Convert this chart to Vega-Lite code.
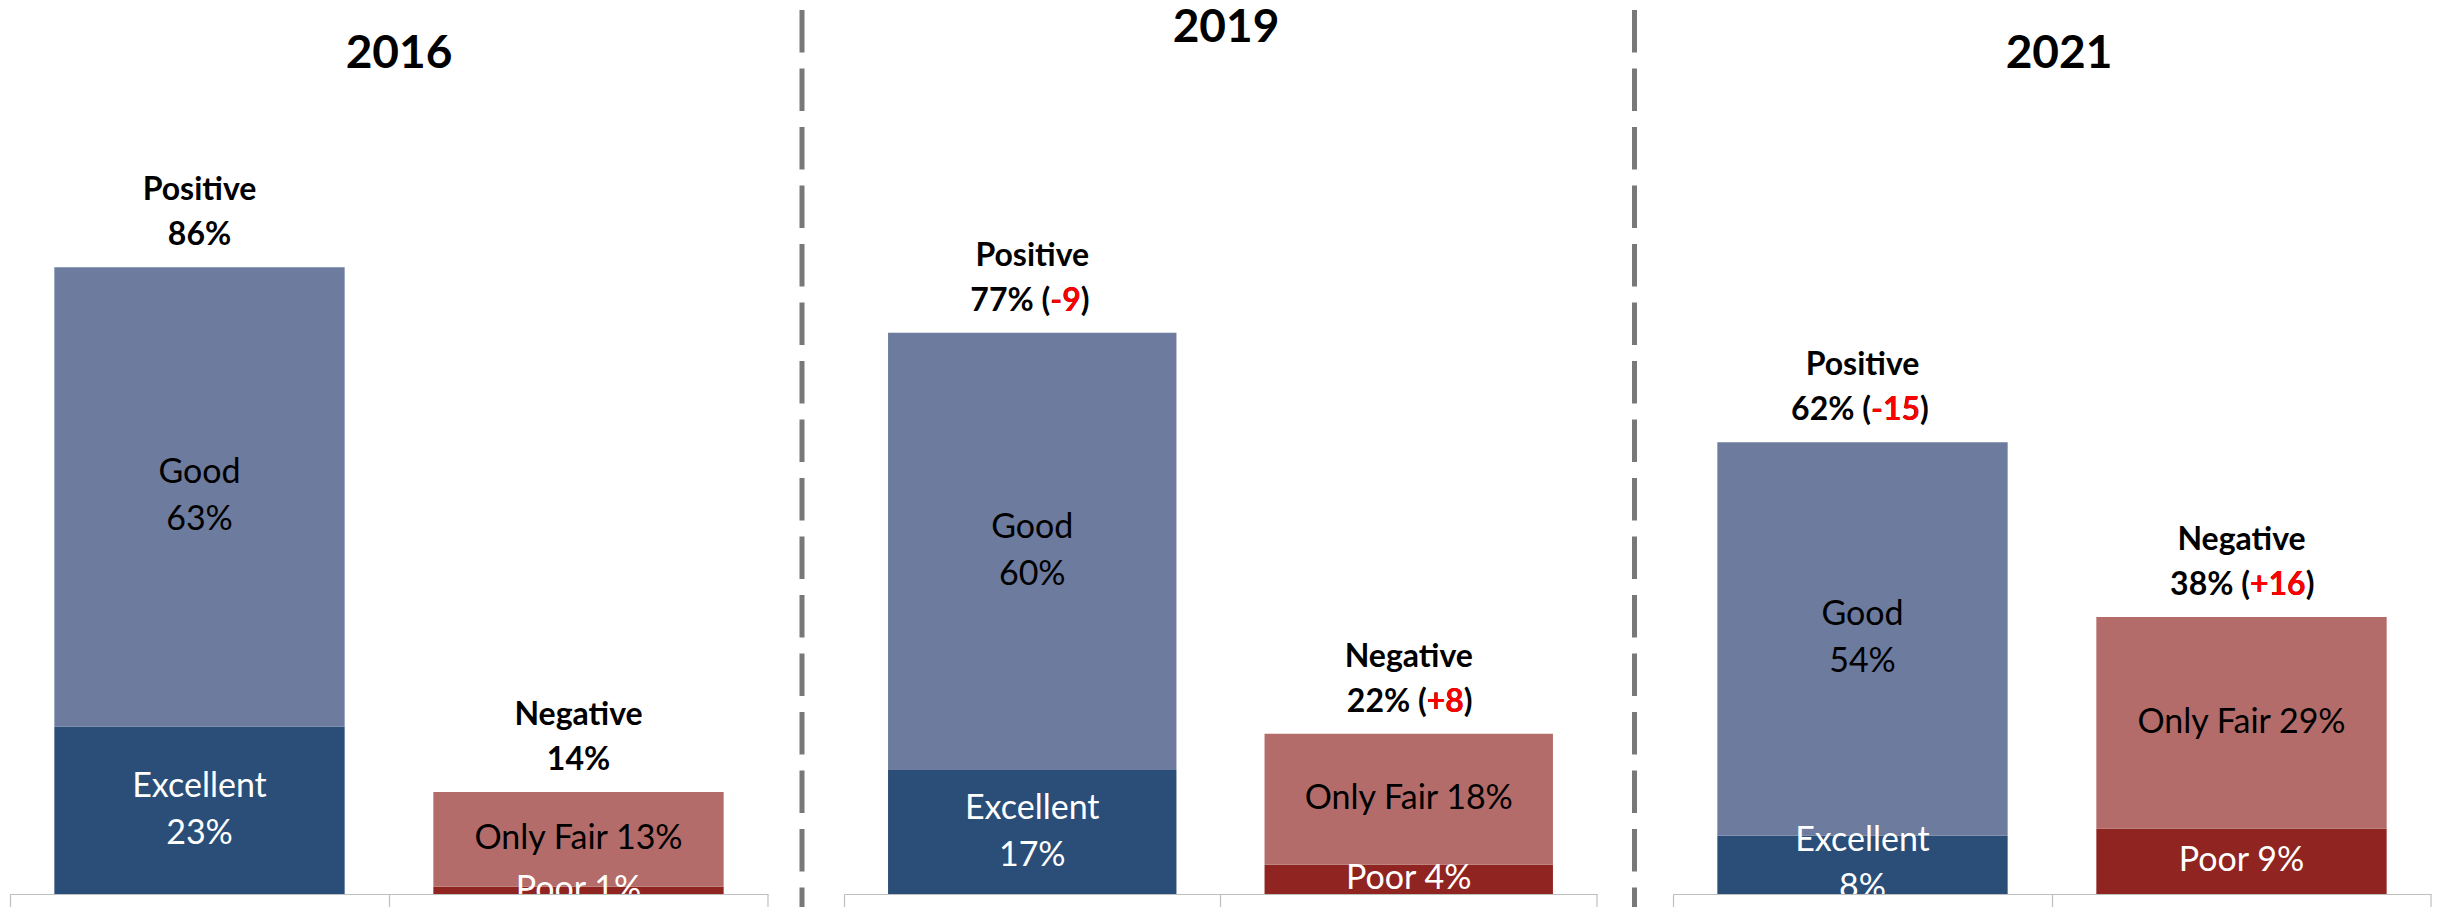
{
  "$schema": "https://vega.github.io/schema/vega-lite/v6.json",
  "background": "white",
  "padding": {"left": 9, "top": 5, "right": 5, "bottom": 5},
  "bounds": "flush",
  "spacing": 37.5,
  "config": {
    "view": {"stroke": null},
    "font": "Lato",
    "axisX": {"labels": false, "title": null, "grid": false, "domainColor": "#bfbfbf", "domainWidth": 1.2, "tickColor": "#bfbfbf", "tickWidth": 1.2, "tickSize": 40, "bandPosition": 0}
  },
  "datasets": {
    "seg": [
      {"year": "2016", "group": "Positive", "rating": "Excellent", "value": 23, "pct": "23%", "order": 1},
      {"year": "2016", "group": "Positive", "rating": "Good", "value": 63, "pct": "63%", "order": 2},
      {"year": "2016", "group": "Negative", "rating": "Poor", "value": 1, "pct": "1%", "order": 1},
      {"year": "2016", "group": "Negative", "rating": "Only Fair", "value": 13, "pct": "13%", "order": 2},
      {"year": "2019", "group": "Positive", "rating": "Excellent", "value": 17, "pct": "17%", "order": 1},
      {"year": "2019", "group": "Positive", "rating": "Good", "value": 60, "pct": "60%", "order": 2},
      {"year": "2019", "group": "Negative", "rating": "Poor", "value": 4, "pct": "4%", "order": 1},
      {"year": "2019", "group": "Negative", "rating": "Only Fair", "value": 18, "pct": "18%", "order": 2},
      {"year": "2021", "group": "Positive", "rating": "Excellent", "value": 8, "pct": "8%", "order": 1},
      {"year": "2021", "group": "Positive", "rating": "Good", "value": 54, "pct": "54%", "order": 2},
      {"year": "2021", "group": "Negative", "rating": "Poor", "value": 9, "pct": "9%", "order": 1},
      {"year": "2021", "group": "Negative", "rating": "Only Fair", "value": 29, "pct": "29%", "order": 2}
    ],
    "hdr": [
      {"year": "2016", "group": "Positive", "total": 86, "name": "Positive", "pct": "86%", "lead": "", "delta": "", "deltaParen": ""},
      {"year": "2016", "group": "Negative", "total": 14, "name": "Negative", "pct": "14%", "lead": "", "delta": "", "deltaParen": ""},
      {"year": "2019", "group": "Positive", "total": 77, "name": "Positive", "pct": "77%", "lead": "77% (", "delta": "-9", "deltaParen": "-9)"},
      {"year": "2019", "group": "Negative", "total": 22, "name": "Negative", "pct": "22%", "lead": "22% (", "delta": "+8", "deltaParen": "+8)"},
      {"year": "2021", "group": "Positive", "total": 62, "name": "Positive", "pct": "62%", "lead": "62% (", "delta": "-15", "deltaParen": "-15)"},
      {"year": "2021", "group": "Negative", "total": 38, "name": "Negative", "pct": "38%", "lead": "38% (", "delta": "+16", "deltaParen": "+16)"}
    ]
  },
  "hconcat": [
    {
      "width": 758, "height": 884,
      "title": {"text": "2016", "fontSize": 46, "fontWeight": "bold", "font": "Lato", "color": "black", "baseline": "alphabetic", "offset": -104, "dx": 10, "anchor": "middle", "frame": "group"},
      "layer": [
        {
          "data": {"name": "seg"},
          "transform": [
            {"filter": "datum.year === '2016'"},
            {"stack": "value", "groupby": ["group"], "sort": [{"field": "order"}], "as": ["v0", "v1"]},
            {"calculate": "(datum.v0 + datum.v1) / 2", "as": "mid"},
            {"calculate": "datum.rating + ' ' + datum.pct", "as": "label"}
          ],
          "encoding": {"x": {"field": "group", "type": "nominal", "sort": ["Positive", "Negative"], "scale": {"domain": ["Positive", "Negative"], "paddingInner": 0, "paddingOuter": 0}}},
          "layer": [
            {"mark": {"type": "bar", "width": {"band": 0.766}},
             "encoding": {
               "y": {"field": "v1", "type": "quantitative", "scale": {"domain": [0, 121.3], "nice": false}, "axis": null},
               "y2": {"field": "v0"},
               "color": {"field": "rating", "type": "nominal", "scale": {"domain": ["Excellent", "Good", "Poor", "Only Fair"], "range": ["#2A4E78", "#6D7B9E", "#8F2420", "#B36C69"]}, "legend": null}}},
            {"transform": [{"filter": "datum.group === 'Positive'"}],
             "mark": {"type": "text", "fontSize": 34, "font": "Lato", "baseline": "middle", "dy": -23.5, "clip": true},
             "encoding": {"y": {"field": "mid", "type": "quantitative", "scale": {"domain": [0, 121.3], "nice": false}, "axis": null}, "text": {"field": "rating"},
               "color": {"condition": {"test": "datum.rating === 'Excellent' || datum.rating === 'Poor'", "value": "white"}, "value": "black"}}},
            {"transform": [{"filter": "datum.group === 'Positive'"}],
             "mark": {"type": "text", "fontSize": 34, "font": "Lato", "baseline": "middle", "dy": 23.5, "clip": true},
             "encoding": {"y": {"field": "mid", "type": "quantitative", "scale": {"domain": [0, 121.3], "nice": false}, "axis": null}, "text": {"field": "pct"},
               "color": {"condition": {"test": "datum.rating === 'Excellent' || datum.rating === 'Poor'", "value": "white"}, "value": "black"}}},
            {"transform": [{"filter": "datum.group === 'Negative'"}],
             "mark": {"type": "text", "fontSize": 34, "font": "Lato", "baseline": "middle", "clip": true},
             "encoding": {"y": {"field": "mid", "type": "quantitative", "scale": {"domain": [0, 121.3], "nice": false}, "axis": null}, "text": {"field": "label"},
               "color": {"condition": {"test": "datum.rating === 'Excellent' || datum.rating === 'Poor'", "value": "white"}, "value": "black"}}}
          ]
        },
        {
          "data": {"name": "hdr"},
          "transform": [{"filter": "datum.year === '2016'"}],
          "encoding": {
            "x": {"field": "group", "type": "nominal", "sort": ["Positive", "Negative"], "scale": {"domain": ["Positive", "Negative"], "paddingInner": 0, "paddingOuter": 0}},
            "y": {"field": "total", "type": "quantitative", "scale": {"domain": [0, 121.3], "nice": false}, "axis": null}
          },
          "layer": [
            {"mark": {"type": "text", "fontSize": 32, "font": "Lato", "fontWeight": "bold", "baseline": "alphabetic", "dy": -67, "color": "black"}, "encoding": {"text": {"field": "name"}}},
            {"mark": {"type": "text", "fontSize": 32, "font": "Lato", "fontWeight": "bold", "baseline": "alphabetic", "dy": -22, "color": "black"}, "encoding": {"text": {"field": "pct"}}},
            {"transform": [{"filter": "datum.group === 'Negative'"}],
             "mark": {"type": "rule", "color": "#bfbfbf", "strokeWidth": 1.2},
             "encoding": {
               "x": {"field": "group", "type": "nominal", "bandPosition": 1, "sort": ["Positive", "Negative"], "scale": {"domain": ["Positive", "Negative"], "paddingInner": 0, "paddingOuter": 0}},
               "y": {"datum": 0, "type": "quantitative", "scale": {"domain": [0, 121.3], "nice": false}, "axis": null},
               "y2": {"datum": -6}}}
          ]
        }
      ]
    },
    {
      "width": 1, "height": 900,
      "data": {"values": [{"s": 0}]},
      "mark": {"type": "rule", "color": "#787878", "strokeWidth": 5, "strokeDash": [42.5, 16], "xOffset": -3.5},
      "encoding": {"x": {"field": "s", "type": "quantitative", "axis": null, "scale": {"domain": [0, 1]}}}
    },
    {
      "width": 753, "height": 884,
      "title": {"text": "2019", "fontSize": 46, "fontWeight": "bold", "font": "Lato", "color": "black", "baseline": "alphabetic", "offset": -78, "dx": 5.5, "anchor": "middle", "frame": "group"},
      "layer": [
        {
          "data": {"name": "seg"},
          "transform": [
            {"filter": "datum.year === '2019'"},
            {"stack": "value", "groupby": ["group"], "sort": [{"field": "order"}], "as": ["v0", "v1"]},
            {"calculate": "(datum.v0 + datum.v1) / 2", "as": "mid"},
            {"calculate": "datum.rating + ' ' + datum.pct", "as": "label"}
          ],
          "encoding": {"x": {"field": "group", "type": "nominal", "sort": ["Positive", "Negative"], "scale": {"domain": ["Positive", "Negative"], "paddingInner": 0, "paddingOuter": 0}}},
          "layer": [
            {"mark": {"type": "bar", "width": {"band": 0.766}},
             "encoding": {
               "y": {"field": "v1", "type": "quantitative", "scale": {"domain": [0, 121.3], "nice": false}, "axis": null},
               "y2": {"field": "v0"},
               "color": {"field": "rating", "type": "nominal", "scale": {"domain": ["Excellent", "Good", "Poor", "Only Fair"], "range": ["#2A4E78", "#6D7B9E", "#8F2420", "#B36C69"]}, "legend": null}}},
            {"transform": [{"filter": "datum.group === 'Positive'"}],
             "mark": {"type": "text", "fontSize": 34, "font": "Lato", "baseline": "middle", "dy": -23.5, "clip": true},
             "encoding": {"y": {"field": "mid", "type": "quantitative", "scale": {"domain": [0, 121.3], "nice": false}, "axis": null}, "text": {"field": "rating"},
               "color": {"condition": {"test": "datum.rating === 'Excellent' || datum.rating === 'Poor'", "value": "white"}, "value": "black"}}},
            {"transform": [{"filter": "datum.group === 'Positive'"}],
             "mark": {"type": "text", "fontSize": 34, "font": "Lato", "baseline": "middle", "dy": 23.5, "clip": true},
             "encoding": {"y": {"field": "mid", "type": "quantitative", "scale": {"domain": [0, 121.3], "nice": false}, "axis": null}, "text": {"field": "pct"},
               "color": {"condition": {"test": "datum.rating === 'Excellent' || datum.rating === 'Poor'", "value": "white"}, "value": "black"}}},
            {"transform": [{"filter": "datum.group === 'Negative'"}],
             "mark": {"type": "text", "fontSize": 34, "font": "Lato", "baseline": "middle", "clip": true},
             "encoding": {"y": {"field": "mid", "type": "quantitative", "scale": {"domain": [0, 121.3], "nice": false}, "axis": null}, "text": {"field": "label"},
               "color": {"condition": {"test": "datum.rating === 'Excellent' || datum.rating === 'Poor'", "value": "white"}, "value": "black"}}}
          ]
        },
        {
          "data": {"name": "hdr"},
          "transform": [{"filter": "datum.year === '2019'"}],
          "encoding": {
            "x": {"field": "group", "type": "nominal", "sort": ["Positive", "Negative"], "scale": {"domain": ["Positive", "Negative"], "paddingInner": 0, "paddingOuter": 0}},
            "y": {"field": "total", "type": "quantitative", "scale": {"domain": [0, 121.3], "nice": false}, "axis": null}
          },
          "layer": [
            {"mark": {"type": "text", "fontSize": 32, "font": "Lato", "fontWeight": "bold", "baseline": "alphabetic", "dy": -67, "color": "black"}, "encoding": {"text": {"field": "name"}}},
            {"mark": {"type": "text", "fontSize": 32, "font": "Lato", "fontWeight": "bold", "baseline": "alphabetic", "align": "right", "dx": 18, "dy": -22, "color": "black"}, "encoding": {"text": {"field": "lead"}}},
            {"mark": {"type": "text", "fontSize": 32, "font": "Lato", "fontWeight": "bold", "baseline": "alphabetic", "align": "left", "dx": 18, "dy": -22, "color": "black"}, "encoding": {"text": {"field": "deltaParen"}}},
            {"mark": {"type": "text", "fontSize": 32, "font": "Lato", "fontWeight": "bold", "baseline": "alphabetic", "align": "left", "dx": 18, "dy": -22, "color": "#ff0000"}, "encoding": {"text": {"field": "delta"}}},
            {"transform": [{"filter": "datum.group === 'Negative'"}],
             "mark": {"type": "rule", "color": "#bfbfbf", "strokeWidth": 1.2},
             "encoding": {
               "x": {"field": "group", "type": "nominal", "bandPosition": 1, "sort": ["Positive", "Negative"], "scale": {"domain": ["Positive", "Negative"], "paddingInner": 0, "paddingOuter": 0}},
               "y": {"datum": 0, "type": "quantitative", "scale": {"domain": [0, 121.3], "nice": false}, "axis": null},
               "y2": {"datum": -6}}}
          ]
        }
      ]
    },
    {
      "width": 1, "height": 900,
      "data": {"values": [{"s": 0}]},
      "mark": {"type": "rule", "color": "#787878", "strokeWidth": 5, "strokeDash": [42.5, 16]},
      "encoding": {"x": {"field": "s", "type": "quantitative", "axis": null, "scale": {"domain": [0, 1]}}}
    },
    {
      "width": 758, "height": 884,
      "title": {"text": "2021", "fontSize": 46, "fontWeight": "bold", "font": "Lato", "color": "black", "baseline": "alphabetic", "offset": -104, "dx": 7, "anchor": "middle", "frame": "group"},
      "layer": [
        {
          "data": {"name": "seg"},
          "transform": [
            {"filter": "datum.year === '2021'"},
            {"stack": "value", "groupby": ["group"], "sort": [{"field": "order"}], "as": ["v0", "v1"]},
            {"calculate": "(datum.v0 + datum.v1) / 2", "as": "mid"},
            {"calculate": "datum.rating + ' ' + datum.pct", "as": "label"}
          ],
          "encoding": {"x": {"field": "group", "type": "nominal", "sort": ["Positive", "Negative"], "scale": {"domain": ["Positive", "Negative"], "paddingInner": 0, "paddingOuter": 0}}},
          "layer": [
            {"mark": {"type": "bar", "width": {"band": 0.766}},
             "encoding": {
               "y": {"field": "v1", "type": "quantitative", "scale": {"domain": [0, 121.3], "nice": false}, "axis": null},
               "y2": {"field": "v0"},
               "color": {"field": "rating", "type": "nominal", "scale": {"domain": ["Excellent", "Good", "Poor", "Only Fair"], "range": ["#2A4E78", "#6D7B9E", "#8F2420", "#B36C69"]}, "legend": null}}},
            {"transform": [{"filter": "datum.group === 'Positive'"}],
             "mark": {"type": "text", "fontSize": 34, "font": "Lato", "baseline": "middle", "dy": -23.5, "clip": true},
             "encoding": {"y": {"field": "mid", "type": "quantitative", "scale": {"domain": [0, 121.3], "nice": false}, "axis": null}, "text": {"field": "rating"},
               "color": {"condition": {"test": "datum.rating === 'Excellent' || datum.rating === 'Poor'", "value": "white"}, "value": "black"}}},
            {"transform": [{"filter": "datum.group === 'Positive'"}],
             "mark": {"type": "text", "fontSize": 34, "font": "Lato", "baseline": "middle", "dy": 23.5, "clip": true},
             "encoding": {"y": {"field": "mid", "type": "quantitative", "scale": {"domain": [0, 121.3], "nice": false}, "axis": null}, "text": {"field": "pct"},
               "color": {"condition": {"test": "datum.rating === 'Excellent' || datum.rating === 'Poor'", "value": "white"}, "value": "black"}}},
            {"transform": [{"filter": "datum.group === 'Negative'"}],
             "mark": {"type": "text", "fontSize": 34, "font": "Lato", "baseline": "middle", "clip": true},
             "encoding": {"y": {"field": "mid", "type": "quantitative", "scale": {"domain": [0, 121.3], "nice": false}, "axis": null}, "text": {"field": "label"},
               "color": {"condition": {"test": "datum.rating === 'Excellent' || datum.rating === 'Poor'", "value": "white"}, "value": "black"}}}
          ]
        },
        {
          "data": {"name": "hdr"},
          "transform": [{"filter": "datum.year === '2021'"}],
          "encoding": {
            "x": {"field": "group", "type": "nominal", "sort": ["Positive", "Negative"], "scale": {"domain": ["Positive", "Negative"], "paddingInner": 0, "paddingOuter": 0}},
            "y": {"field": "total", "type": "quantitative", "scale": {"domain": [0, 121.3], "nice": false}, "axis": null}
          },
          "layer": [
            {"mark": {"type": "text", "fontSize": 32, "font": "Lato", "fontWeight": "bold", "baseline": "alphabetic", "dy": -67, "color": "black"}, "encoding": {"text": {"field": "name"}}},
            {"mark": {"type": "text", "fontSize": 32, "font": "Lato", "fontWeight": "bold", "baseline": "alphabetic", "align": "right", "dx": 8.5, "dy": -22, "color": "black"}, "encoding": {"text": {"field": "lead"}}},
            {"mark": {"type": "text", "fontSize": 32, "font": "Lato", "fontWeight": "bold", "baseline": "alphabetic", "align": "left", "dx": 8.5, "dy": -22, "color": "black"}, "encoding": {"text": {"field": "deltaParen"}}},
            {"mark": {"type": "text", "fontSize": 32, "font": "Lato", "fontWeight": "bold", "baseline": "alphabetic", "align": "left", "dx": 8.5, "dy": -22, "color": "#ff0000"}, "encoding": {"text": {"field": "delta"}}},
            {"transform": [{"filter": "datum.group === 'Negative'"}],
             "mark": {"type": "rule", "color": "#bfbfbf", "strokeWidth": 1.2},
             "encoding": {
               "x": {"field": "group", "type": "nominal", "bandPosition": 1, "sort": ["Positive", "Negative"], "scale": {"domain": ["Positive", "Negative"], "paddingInner": 0, "paddingOuter": 0}},
               "y": {"datum": 0, "type": "quantitative", "scale": {"domain": [0, 121.3], "nice": false}, "axis": null},
               "y2": {"datum": -6}}}
          ]
        }
      ]
    }
  ]
}
